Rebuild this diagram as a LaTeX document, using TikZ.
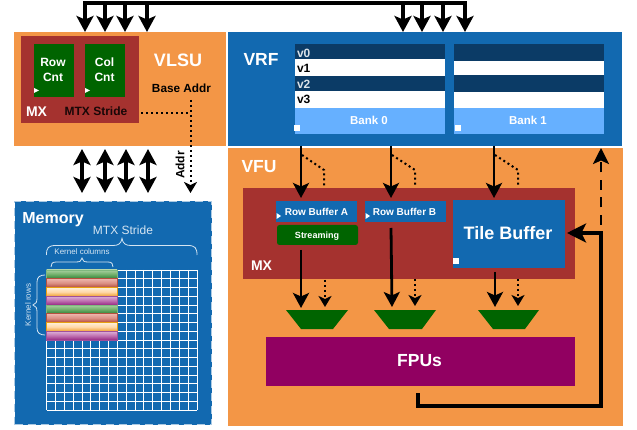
\documentclass[tikz,border=0pt]{standalone}
\usepackage{fontspec}
\setmainfont{Liberation Sans}
\usetikzlibrary{arrows.meta,calc}
\definecolor{co}{HTML}{F39646}
\definecolor{cb}{HTML}{1269B0}
\definecolor{cr}{HTML}{A5322F}
\definecolor{cg}{HTML}{006400}
\definecolor{cp}{HTML}{910061}
\definecolor{cd}{HTML}{0B3B66}
\definecolor{cl}{HTML}{66B0FF}
\definecolor{brc}{HTML}{D5E5F2}
\tikzset{
 box/.style={rectangle,inner sep=0pt,outer sep=0pt,draw=none,align=center},
 lbl/.style={inner sep=0pt,outer sep=0pt,align=center},
 wl/.style={lbl,text=white,font=\bfseries},
 bus/.style={line width=3.2pt,black},
 big/.style={bus,-{Stealth[length=16pt,width=17pt,inset=3.5pt]}},
 bigd/.style={bus,{Stealth[length=16pt,width=17pt,inset=3.5pt]}-{Stealth[length=16pt,width=17pt,inset=3.5pt]}},
 sol/.style={line width=2.8pt,black,-{Stealth[length=15pt,width=16pt,inset=3.5pt]}},
 dot/.style={line width=2pt,black,dash pattern=on 2pt off 3pt},
 dotar/.style={dot,-{Stealth[length=11pt,width=13pt,inset=3pt]}},
 trap/.style={fill=cg},
 bracew/.style={brc,line width=0.8pt},
 gridl/.style={white,line width=0.8pt},
 barg/.style={top color=barGa,bottom color=barGc,middle color=barGb,draw=barGd,line width=0.7pt},
 barr/.style={top color=barRa,bottom color=barRc,middle color=barRb,draw=barRd,line width=0.7pt},
 bary/.style={top color=barYa,bottom color=barYc,middle color=barYb,draw=barYd,line width=0.7pt},
 barm/.style={top color=barMa,bottom color=barMc,middle color=barMb,draw=barMd,line width=0.7pt},
}
\definecolor{barGa}{HTML}{A8D0A0}\definecolor{barGb}{HTML}{6FAE68}\definecolor{barGc}{HTML}{2F8038}\definecolor{barGd}{HTML}{7FB87F}
\definecolor{barRa}{HTML}{EDB5AC}\definecolor{barRb}{HTML}{DA8E82}\definecolor{barRc}{HTML}{B2483C}\definecolor{barRd}{HTML}{B5503F}
\definecolor{barYa}{HTML}{FFF0D8}\definecolor{barYb}{HTML}{FFD8A8}\definecolor{barYc}{HTML}{F0A030}\definecolor{barYd}{HTML}{E8A010}
\definecolor{barMa}{HTML}{DDB0D8}\definecolor{barMb}{HTML}{C070B0}\definecolor{barMc}{HTML}{952882}\definecolor{barMd}{HTML}{A0509A}
\newcommand{\bx}[7]{%
 \pgfmathsetmacro{\cxx}{(#2+#4)/2}\pgfmathsetmacro{\cyy}{(#3+#5)/2}%
 \pgfmathsetmacro{\wxx}{#4-#2}\pgfmathsetmacro{\hyy}{#5-#3}%
 \node[box,minimum width=\wxx pt,minimum height=\hyy pt,#6] (#1) at (\cxx,\cyy) {#7};}
\newcommand{\fz}[1]{\fontsize{#1}{#1}\selectfont}
\begin{document}
\begin{tikzpicture}[x=1pt,y=-1pt]
\useasboundingbox (0,0) rectangle (637,430);
\fill[white] (0,0) rectangle (637,430);
% panels
\bx{vlsu}{14}{32}{226}{146}{fill=co}{}
\bx{vrf}{228}{32}{622}{146}{fill=cb}{}
\bx{vfu}{228}{148}{623}{426}{fill=co}{}
\bx{mem}{14.5}{201.5}{211.5}{424.5}{fill=cb,draw=white!65!cb,line width=1.3pt,dash pattern=on 8pt off 5pt}{}
% VLSU content
\bx{mxa}{21}{36}{139}{123}{fill=cr}{}
\bx{rowc}{34}{44}{74}{97}{fill=cg}{}
\bx{colc}{85}{44}{125}{97}{fill=cg}{}
\node[wl,font=\bfseries\fontsize{12}{15}\selectfont] (trow) at (53,69.5) {Row\\Cnt};
\node[wl,font=\bfseries\fontsize{12}{15}\selectfont] (tcol) at (104.5,69.5) {Col\\Cnt};
\fill[white] (34,88) -- (39,90.5) -- (34,93) -- cycle;
\fill[white] (85,88) -- (90,90.5) -- (85,93) -- cycle;
\node[wl,font=\bfseries\fz{14}] (tmxa) at (36.5,112) {MX};
\node[lbl,font=\bfseries\fz{12},text=black!85!cr] (tstr) at (96,111) {MTX Stride};
\node[wl,font=\bfseries\fz{18}] (tvlsu) at (178,60) {VLSU};
\node[lbl,font=\bfseries\fz{11.8}] (tbase) at (181.5,88) {Base Addr};
% VRF
\node[wl,font=\bfseries\fz{17.5}] (tvrf) at (261,59) {VRF};
\bx{b0}{295}{44}{445}{134}{fill=cl}{}
\bx{b0a}{295}{44}{445}{59}{fill=cd}{}
\bx{b0b}{295}{59}{445}{76}{fill=white}{}
\bx{b0c}{295}{76}{445}{91}{fill=cd}{}
\bx{b0d}{295}{91}{445}{108}{fill=white}{}
\node[lbl,anchor=west,text=white!85!cd,font=\bfseries\fz{12}] (v0) at (297,53) {v0};
\node[lbl,anchor=west,font=\bfseries\fz{12}] (v1) at (297,68) {v1};
\node[lbl,anchor=west,text=white!85!cd,font=\bfseries\fz{12}] (v2) at (297,84) {v2};
\node[lbl,anchor=west,font=\bfseries\fz{12}] (v3) at (297,99) {v3};
\node[wl,font=\bfseries\fz{11.5}] (tb0) at (369,120.5) {Bank 0};
\bx{b1}{454}{44}{604}{134}{fill=cl}{}
\bx{b1a}{454}{44}{604}{61}{fill=cd}{}
\bx{b1b}{454}{61}{604}{75}{fill=white}{}
\bx{b1c}{454}{75}{604}{92}{fill=cd}{}
\bx{b1d}{454}{92}{604}{108}{fill=white}{}
\node[wl,font=\bfseries\fz{11.5}] (tb1) at (528,120.5) {Bank 1};
\bx{s0}{294}{125}{300}{131}{fill=white}{}
\bx{s1}{454.5}{125}{460.5}{131}{fill=white}{}
% VFU
\node[wl,font=\bfseries\fz{17.5}] (tvfu) at (259,167) {VFU};
\bx{mxb}{243}{188}{575}{279}{fill=cr}{}
\bx{rba}{276}{201}{357}{222}{fill=cb}{}
\bx{rbb}{365}{201}{446}{222}{fill=cb}{}
\node[wl,font=\bfseries\fz{10}] (trba) at (316.5,211.5) {Row Buffer A};
\node[wl,font=\bfseries\fz{10}] (trbb) at (404.5,211.5) {Row Buffer B};
\fill[white] (276.5,213) -- (281,216) -- (276.5,219) -- cycle;
\fill[white] (365.5,213) -- (370,216) -- (365.5,219) -- cycle;
\bx{strm}{277}{225}{358}{245}{fill=cg,rounded corners=2.5pt}{}
\node[wl,font=\bfseries\fz{9}] (tstrm) at (317,236) {Streaming};
\bx{tile}{453}{200}{565}{268}{fill=cb}{}
\node[wl,font=\bfseries\fz{18}] (ttile) at (508,233) {Tile Buffer};
\bx{s2}{453}{258}{459}{264}{fill=white}{}
\node[wl,font=\bfseries\fz{14}] (tmxb) at (261.5,266) {MX};
\fill[trap] (286,310) -- (348,310) -- (333,329) -- (301,329) -- cycle;
\fill[trap] (374,310) -- (436,310) -- (422,329) -- (389,329) -- cycle;
\fill[trap] (478,310) -- (539,310) -- (525,329) -- (493,329) -- cycle;
\bx{fpu}{266}{337}{575}{386}{fill=cp}{}
\node[wl,font=\bfseries\fz{17.5}] (tfpu) at (419.5,360.5) {FPUs};
% Memory
\node[wl,font=\bfseries\fz{16}] (tmem) at (53,220) {Memory};
\foreach \i in {0,...,17}{\draw[gridl] ({46.5+\i*150.5/17},270) -- ({46.5+\i*150.5/17},410);}
\foreach \i in {0,...,16}{\draw[gridl] (46.5,{270+\i*8.75}) -- (197,{270+\i*8.75});}
\foreach \yy/\st in {270/barg,278.75/barr,287.5/bary,296.25/barm,305/barg,313.75/barr,322.5/bary,331.25/barm}{
  \path[\st] (46.5,\yy) rectangle (117,\yy+8.75);}
\node[lbl,text=brc,font=\fz{12}] (tstride) at (123,230) {MTX Stride};
\node[lbl,text=brc,font=\fz{8}] (tkc) at (82,252) {Kernel columns};
\node[lbl,text=brc,font=\fz{8},rotate=90] (tkr) at (28,305) {Kernel rows};
\draw[bracew] (46.5,255) .. controls (46.5,248) and (48,245.5) .. (56,245.5) -- (113,245.5) .. controls (118,245.5) and (121,244) .. (122,238.5) .. controls (123,244) and (126,245.5) .. (131,245.5) -- (188,245.5) .. controls (195,245.5) and (197,248) .. (197,255);
\draw[bracew] (51,267) .. controls (51,264) and (52,262) .. (56,262) -- (76,262) .. controls (80,262) and (81.5,261) .. (82,258) .. controls (82.5,261) and (84,262) .. (88,262) -- (108,262) .. controls (112,262) and (113,264) .. (113,267);
\draw[bracew] (45,275) .. controls (40,275) and (37,277) .. (37,282) -- (37,298) .. controls (37,302) and (36,304) .. (33,305) .. controls (36,306) and (37,308) .. (37,312) -- (37,328) .. controls (37,333) and (40,335) .. (45,335);
% top bus
\coordinate (t1) at (85,3);\coordinate (t2) at (105,3);\coordinate (t3) at (125,3);\coordinate (t4) at (147,3);
\coordinate (t5) at (403,3);\coordinate (t6) at (422,3);\coordinate (t7) at (443,3);\coordinate (t8) at (465,3);
\draw[bus,line cap=rect] (t1) -- (t8);
\foreach \a in {t1,t2,t3,t4}{\draw[big] (\a) -- (\a |- vlsu.north);}
\foreach \a in {t5,t6,t7,t8}{\draw[big] (\a) -- (\a |- vrf.north);}
% memory bus
\coordinate (m1) at (82,149);\coordinate (m2) at (105,149);\coordinate (m3) at (126,149);\coordinate (m4) at (148,149);
\foreach \a in {m1,m2,m3,m4}{\draw[bigd] (\a) -- (\a |- 0,193);}
% addr
\coordinate (ad1) at (141,113.5);\coordinate (ad2) at (190.5,113.5);\coordinate (ad3) at (190.5,100);\coordinate (ad4) at (190.5,193);
\draw[dot] (ad1) -- (ad2);
\draw[dotar] (ad3) -- (ad4);
\node[lbl,rotate=90,font=\bfseries\fz{12}] (taddr) at (180,165) {Addr};
% VRF to VFU
\coordinate (a1) at (301,146);\coordinate (a2) at (391,146);\coordinate (a3) at (494,146);
\coordinate (a4) at (301,198);\coordinate (a5) at (391,198);\coordinate (a6) at (494,198);
\draw[sol] (a1) -- (a4);\draw[sol] (a2) -- (a5);\draw[sol] (a3) -- (a6);
\draw[dot] (302,155) -- (324,170) -- (324,186);
\draw[dot] (392,155) -- (415,170) -- (415,186);
\draw[dot] (495,155) -- (518,170) -- (518,186);
% to muxes
\draw[sol] (301,250) -- (301,308);
\draw[sol] (391,228) -- (392,307);
\draw[sol] (495,272) -- (495,307);
\draw[dotar] (325,280) -- (325,307);
\draw[dotar] (415,279) -- (415,306);
\draw[dotar] (518,279) -- (518,306);
% feedback
\coordinate (fb1) at (418,393);\coordinate (fb2) at (601,406);\coordinate (fb3) at (601,233);\coordinate (fb4) at (567,233);
\draw[line width=3.2pt,black,line join=miter,-{Stealth[length=19pt,width=19pt,inset=4.5pt]}] (fb1) -- (418,406) -- (fb2) -- (fb3) -- (fb4);
\coordinate (up1) at (601,225);\coordinate (up2) at (601,148);
\draw[line width=2.6pt,black,dash pattern=on 10pt off 7.5pt,-{Stealth[length=16pt,width=16pt,inset=3.5pt]}] (up1) -- (up2);
\end{tikzpicture}
\end{document}
